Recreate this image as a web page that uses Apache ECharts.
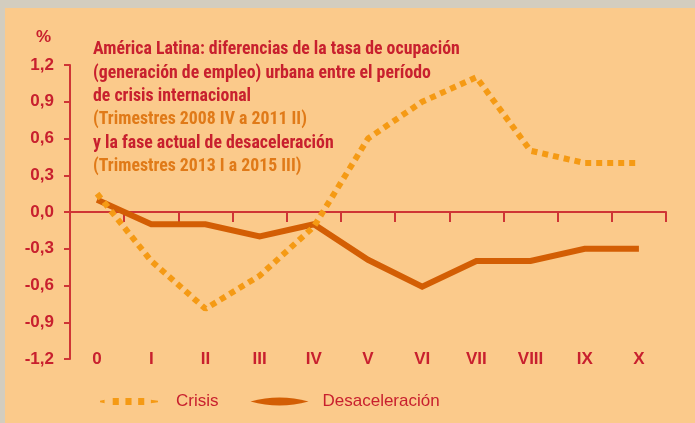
<!DOCTYPE html>
<html>
<head>
<meta charset="utf-8">
<script src="https://cdn.jsdelivr.net/npm/echarts@6/dist/echarts.min.js"></script>
<style>
html,body{margin:0;padding:0;background:#fbca8b;}
#c{width:695px;height:423px;}
</style>
</head>
<body>
<div id="c"></div>
<script>
var categories = ['0','I','II','III','IV','V','VI','VII','VIII','IX','X'];
var crisis = [0.15,-0.4,-0.79,-0.52,-0.12,0.6,0.9,1.1,0.5,0.4,0.4];
var desaceleracion = [0.1,-0.1,-0.1,-0.2,-0.1,-0.39,-0.61,-0.4,-0.4,-0.3,-0.3];
var yTicks = {min:-1.2, max:1.2, interval:0.3};
var seriesNames = ['Crisis','Desaceleración'];
var titleLines = [
  ['r','América Latina: diferencias de la tasa de ocupación'],
  ['r','(generación de empleo) urbana entre el período'],
  ['r','de crisis internacional'],
  ['o','(Trimestres 2008 IV a 2011 II)'],
  ['r','y la fase actual de desaceleración'],
  ['o','(Trimestres 2013 I a 2015 III)']
];

var RED = '#c8202e';
var AX = '#cf3535';
var chart = echarts.init(document.getElementById('c'));
var titleFont = '"Liberation Sans Narrow","Arial Narrow","Roboto Condensed","Liberation Sans",sans-serif';
var crisisIcon = 'path://M0,3.2L4.5,2.2L4.5,5.8L0,4.8Z M12.5,0.5h6v7h-6Z M25,0.5h6v7h-6Z M37.5,0.5h6v7h-6Z M50,2.2L57,3.2L57,4.8L50,5.8Z';
var desacIcon = 'path://M0,4Q29,-4 58,4Q29,12 0,4Z';
chart.setOption({
  backgroundColor: '#fbca8b',
  animation: false,
  graphic: [
    {type:'rect', left:0, top:0, shape:{width:695,height:8}, style:{fill:'#d3cdbf'}, z:-1},
    {type:'rect', left:0, top:0, shape:{width:5,height:423}, style:{fill:'#d3cdbf'}, z:-1}
  ],
  title: [
    {
      text: '%', left: 31, top: 24,
      textStyle: {color: RED, fontSize: 17, fontWeight: 'bold', fontFamily: 'Liberation Sans'}
    },
    {
      text: titleLines.map(function(l){ return '{' + l[0] + '|' + l[1] + '}'; }).join('\n'),
      left: 88, top: 33,
      textStyle: {
        rich: {
          r: {color: RED, fontSize: 17.8, fontWeight: 'bold', fontFamily: titleFont, lineHeight: 23.4},
          o: {color: '#e07a18', fontSize: 17.8, fontWeight: 'bold', fontFamily: titleFont, lineHeight: 23.4}
        }
      }
    }
  ],
  legend: {
    left: 100, top: 393, padding: 0,
    itemWidth: 58, itemHeight: 8, itemGap: 32,
    textStyle: {color: RED, fontSize: 17, fontFamily: 'Liberation Sans'},
    data: [
      {name: seriesNames[0], icon: crisisIcon, textStyle: {padding: [0,0,0,13]}},
      {name: seriesNames[1], icon: desacIcon, textStyle: {padding: [0,0,0,9]}}
    ]
  },
  grid: {left: 70, right: 29, top: 65, bottom: 64},
  xAxis: [
    {
      type: 'category', data: categories, boundaryGap: true,
      axisLine: {onZero: true, lineStyle: {color: AX, width: 2}},
      axisTick: {show: true, length: 10, lineStyle: {color: AX, width: 2}},
      axisLabel: {show: false}
    },
    {
      type: 'category', data: categories, boundaryGap: true, position: 'bottom',
      axisLine: {show: false}, axisTick: {show: false},
      axisLabel: {color: RED, fontSize: 17, fontWeight: 'bold', fontFamily: 'Liberation Sans', margin: 0, verticalAlign: 'middle'}
    }
  ],
  yAxis: {
    type: 'value', min: yTicks.min, max: yTicks.max, interval: yTicks.interval,
    splitLine: {show: false},
    axisLine: {show: true, lineStyle: {color: AX, width: 2}},
    axisTick: {show: true, length: 6, lineStyle: {color: AX, width: 2}},
    axisLabel: {
      color: RED, fontSize: 17, fontWeight: 'bold', fontFamily: 'Liberation Sans', margin: 16,
      formatter: function(v){ return v.toFixed(1).replace('.', ','); }
    }
  },
  series: [
    {
      name: seriesNames[0], type: 'line', data: crisis, symbol: 'none', xAxisIndex: 0,
      lineStyle: {color: '#f59a14', width: 6, type: [6,5], cap: 'butt'},
      itemStyle: {color: '#f59a14'},
      z: 3
    },
    {
      name: seriesNames[1], type: 'line', data: desaceleracion, symbol: 'none', xAxisIndex: 0,
      lineStyle: {color: '#d35e04', width: 6, join: 'miter'},
      itemStyle: {color: '#d35e04'},
      z: 2
    }
  ]
});
</script>
</body>
</html>
